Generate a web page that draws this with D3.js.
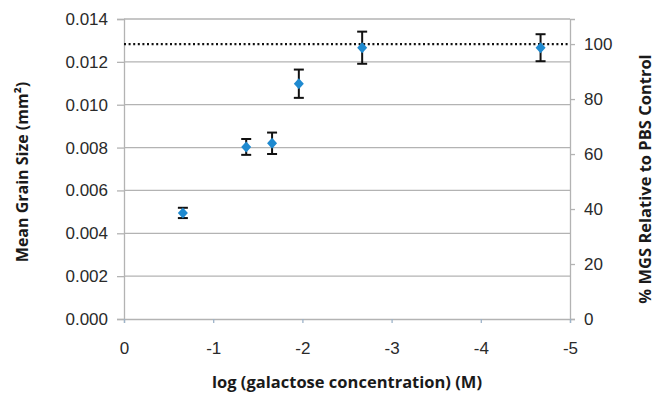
<!DOCTYPE html>
<html>
<head>
<meta charset="utf-8">
<script src="https://cdn.jsdelivr.net/npm/d3@7"></script>
<style>
  html, body { margin: 0; padding: 0; background: #fff; }
  svg { display: block; font-family: "Open Sans", "Liberation Sans", sans-serif; }
</style>
</head>
<body>
<svg id="chart" width="654" height="396"></svg>
<script>
// log10 of galactose concentration (M)
const logConc = [-0.66, -1.37, -1.66, -1.96, -2.67, -4.67];
// mean grain size (mm²) and its error
const meanGrainSize = [0.00495, 0.00803, 0.00820, 0.01098, 0.01266, 0.01266];
const grainError = [0.00024, 0.00037, 0.00050, 0.00066, 0.00075, 0.00063];
// PBS control mean grain size (100 % reference line)
const controlMGS = 0.01283;

const xTicks = [0, -1, -2, -3, -4, -5];
const yTicks = [0, 0.002, 0.004, 0.006, 0.008, 0.010, 0.012, 0.014];
const pctTicks = [0, 20, 40, 60, 80, 100];

const svg = d3.select("#chart");
const plotLeft = 124, plotRight = 570, plotTop = 19, plotBottom = 319;

const x = d3.scaleLinear().domain([0, -5]).range([plotLeft, plotRight]);
const y = d3.scaleLinear().domain([0, 0.014]).range([plotBottom, plotTop]);
const yPct = d3.scaleLinear().domain([0, 0.014 / controlMGS * 100]).range([plotBottom, plotTop]);

const gridColor = "#b3b3b3";
const textColor = "#2a2a2a";
const titleColor = "#1a1a1a";

// horizontal gridlines
svg.append("g").selectAll("line").data(yTicks.slice(1)).join("line")
  .attr("x1", plotLeft).attr("x2", plotRight)
  .attr("y1", d => y(d)).attr("y2", d => y(d))
  .attr("stroke", gridColor).attr("stroke-width", 1.3);

// left axis
const gLeft = svg.append("g").attr("transform", `translate(${plotLeft},0)`)
  .call(d3.axisLeft(y).tickValues(yTicks).tickFormat(d3.format(".3f")).tickSize(7).tickPadding(9));
// right axis
const gRight = svg.append("g").attr("transform", `translate(${plotRight},0)`)
  .call(d3.axisRight(yPct).tickValues(pctTicks).tickSize(5).tickPadding(9));
// bottom axis
const gBottom = svg.append("g").attr("transform", `translate(0,${plotBottom})`)
  .call(d3.axisBottom(x).tickValues(xTicks).tickFormat(d => d === 0 ? "0" : "-" + Math.abs(d)).tickSize(4).tickPadding(19));

[gLeft, gRight, gBottom].forEach(g => {
  g.select(".domain").attr("stroke", gridColor).attr("stroke-width", 1.3);
  g.selectAll(".tick line").attr("stroke", gridColor).attr("stroke-width", 1.3);
  g.selectAll(".tick text").attr("fill", textColor).style("font-size", "17px");
});
gBottom.selectAll(".tick line").attr("stroke", "#9db3c9");

// control reference line
svg.append("line")
  .attr("x1", plotLeft).attr("x2", plotRight)
  .attr("y1", y(controlMGS)).attr("y2", y(controlMGS))
  .attr("stroke", "#111").attr("stroke-width", 2.2)
  .attr("stroke-dasharray", "2,2.6");

// error bars
const pts = logConc.map((v, i) => ({ x: v, y: meanGrainSize[i], e: grainError[i] }));
const eb = svg.append("g").attr("stroke", "#111").attr("stroke-width", 2);
eb.selectAll("line.v").data(pts).join("line").attr("class", "v")
  .attr("x1", d => x(d.x)).attr("x2", d => x(d.x))
  .attr("y1", d => y(d.y - d.e)).attr("y2", d => y(d.y + d.e));
eb.selectAll("line.t").data(pts).join("line").attr("class", "t")
  .attr("x1", d => x(d.x) - 5).attr("x2", d => x(d.x) + 5)
  .attr("y1", d => y(d.y + d.e)).attr("y2", d => y(d.y + d.e));
eb.selectAll("line.b").data(pts).join("line").attr("class", "b")
  .attr("x1", d => x(d.x) - 5).attr("x2", d => x(d.x) + 5)
  .attr("y1", d => y(d.y - d.e)).attr("y2", d => y(d.y - d.e));

// diamond markers
svg.append("g").selectAll("path").data(pts).join("path")
  .attr("transform", d => `translate(${x(d.x)},${y(d.y)})`)
  .attr("d", "M0,-5.5L5,0L0,5.5L-5,0Z")
  .attr("fill", "#1f8ad0");

// axis titles
svg.append("text")
  .attr("transform", `translate(22,${(plotTop + plotBottom) / 2 + 3}) rotate(-90)`)
  .attr("text-anchor", "middle").attr("dominant-baseline", "central")
  .attr("fill", titleColor).style("font-size", "16px").style("font-weight", "bold")
  .text("Mean Grain Size (mm²)");
svg.append("text")
  .attr("transform", `translate(644,${(plotTop + plotBottom) / 2 + 10}) rotate(-90)`)
  .attr("text-anchor", "middle").attr("dominant-baseline", "central")
  .attr("fill", titleColor).style("font-size", "16.5px").style("font-weight", "bold")
  .text("% MGS Relative to PBS Control");
svg.append("text")
  .attr("x", (plotLeft + plotRight) / 2).attr("y", 388)
  .attr("text-anchor", "middle")
  .attr("fill", titleColor).style("font-size", "16.5px").style("font-weight", "bold")
  .text("log (galactose concentration) (M)");
</script>
</body>
</html>
